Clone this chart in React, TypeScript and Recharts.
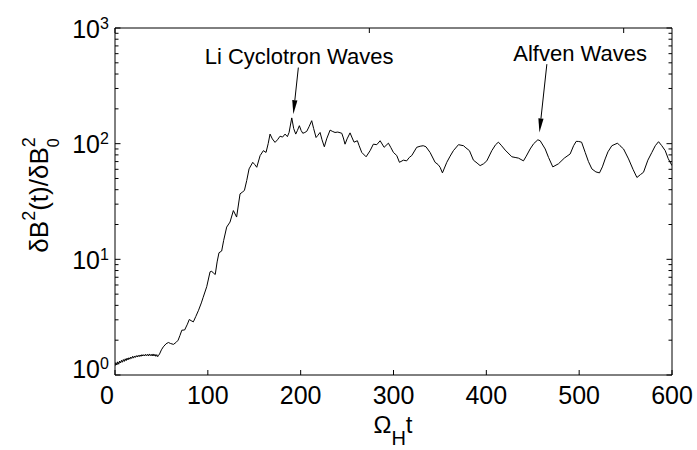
import React from 'react';
import { LineChart, Line, XAxis, YAxis, ReferenceLine, ReferenceDot } from 'recharts';

const FONT = "Arial, 'Liberation Sans', Helvetica, sans-serif";

// normalised time Omega_H t
const timeSteps = [
  0, 1, 2, 3, 4, 5, 6, 7, 8, 9, 10, 11, 12, 13, 14, 15, 16, 17, 18, 19,
  20, 21, 22, 23, 24, 25, 26, 27, 28, 29, 30, 31, 32, 33, 34, 35, 36, 37, 38, 39,
  40, 41, 42, 43, 44, 45, 46, 47, 48, 50, 52, 55, 57.5, 60, 63, 66, 68, 70, 72, 75,
  78, 80, 82, 84.4, 87, 90, 93, 95, 98.8, 102.4, 104.2, 106, 108, 110, 112, 114.9, 117, 120.3, 123.9, 127.5,
  131, 134.7, 137, 139.4, 141.9, 144.4, 148.4, 150.5, 152.7, 156.3, 159.8, 162.7, 165, 167, 169.5, 172.4, 175, 177.8, 180.5, 183.2,
  185.7, 187.5, 190.4, 192.5, 194.7, 196.5, 198.6, 200.5, 202.3, 204.5, 206.6, 209, 211.9, 214, 216.6, 218.5, 220.9, 223, 225.5, 228,
  231.7, 234, 237, 240, 244.3, 246, 247.8, 250, 253.2, 255.5, 257.5, 261.1, 263, 265.8, 270.5, 274.8, 278.3, 282, 285.6, 289.9,
  294.5, 297, 299.9, 303.5, 306.4, 310.7, 314.2, 317, 319.7, 325, 328.7, 332, 335, 339.4, 344.8, 348, 350.2, 352.7, 357.4, 361,
  364.5, 370, 375.4, 378, 381.8, 386.1, 390, 393.3, 397, 400.5, 405.9, 410, 413, 416, 420.3, 427.5, 431, 434.6, 440, 443,
  447.2, 451, 455.5, 458, 463.4, 467, 471.6, 477.7, 484, 490.3, 494, 496.8, 499.5, 502.6, 506.5, 510, 513.7, 518, 521.9, 525,
  528, 531, 535.2, 541.3, 544, 547.8, 550, 553.2, 558, 562.2, 566, 569.3, 574, 578.3, 582, 585.5, 589, 592.7, 596, 600,
];

// dB^2(t)/dB0^2
const energyRatio = [
  1.2, 1.28, 1.22, 1.3, 1.24, 1.32, 1.27, 1.34, 1.29, 1.36, 1.31, 1.38, 1.33, 1.4, 1.35, 1.41, 1.37, 1.43, 1.39, 1.45,
  1.4, 1.46, 1.42, 1.47, 1.43, 1.48, 1.44, 1.49, 1.45, 1.5, 1.46, 1.5, 1.46, 1.51, 1.47, 1.51, 1.46, 1.52, 1.47, 1.51,
  1.46, 1.52, 1.46, 1.51, 1.45, 1.5, 1.44, 1.48, 1.52, 1.65, 1.75, 1.86, 1.91, 1.87, 1.84, 1.92, 2.0, 2.2, 2.44, 2.45,
  2.75, 3.02, 2.95, 2.88, 3.2, 3.63, 4.2, 4.7, 5.8, 7.8, 7.9, 7.6, 7.4, 9.5, 11.4, 11.8, 14.5, 19, 21, 26.4,
  23.2, 36.8, 38, 39.4, 48, 60.5, 69, 66, 62.5, 78.8, 87, 84, 100, 121, 110, 102.6, 108, 116, 114, 121,
  115, 125, 167, 135, 121, 130, 143, 130, 123, 125, 128, 140, 158, 135, 113, 118, 125, 108, 94, 110,
  131, 128, 125, 126, 123, 112, 99, 110, 124, 112, 103, 106, 96, 84, 77, 87, 99, 98, 106, 93,
  101, 93, 84, 79, 69, 72, 71, 76, 79, 93, 95, 96, 94, 84, 69, 66, 62.5, 55.9, 69, 78,
  87, 98, 96, 92, 87, 72, 68, 64.6, 67, 71, 87, 98, 103, 97, 88, 77, 76, 75, 71, 78,
  90, 100, 108, 106, 90, 76, 63, 67, 75, 81.5, 96, 104.7, 104.5, 103, 84, 70, 60.5, 57, 55.9, 63,
  73.8, 85, 96, 101, 96, 90, 83, 73.8, 60, 51, 54, 56.6, 72, 84, 96, 104, 96, 87, 74, 64.6,
];

const xTicks = [0, 100, 200, 300, 400, 500, 600];
const yTicks = [
  1, 2, 3, 4, 5, 6, 7, 8, 9,
  10, 20, 30, 40, 50, 60, 70, 80, 90,
  100, 200, 300, 400, 500, 600, 700, 800, 900, 1000,
];
const yMajor = [1, 10, 100, 1000];

const annotations = [
  { text: 'Li Cyclotron Waves', from: { x: 197.5, y: 455 }, to: { x: 192.1, y: 180 }, labelX: 198.3, labelY: 490 },
  { text: 'Alfven Waves', from: { x: 465.2, y: 487 }, to: { x: 457.2, y: 125 }, labelX: 501, labelY: 520 },
];

const chartData = timeSteps.map((t, i) => ({ t, v: energyRatio[i] }));

const BottomTick = (props: any) => {
  const { x, y, payload } = props;
  const shift = payload.value === 0 ? -8 : 0;
  return (
    <g>
      <line x1={x} x2={x} y1={y} y2={y - 5} stroke="#000" />
      <text x={x + shift} y={y + 29} textAnchor="middle" fontSize={25} fontFamily={FONT} fill="#000">
        {payload.value}
      </text>
    </g>
  );
};

const TopTick = (props: any) => {
  const { x, y } = props;
  return <line x1={x} x2={x} y1={y} y2={y + 5} stroke="#000" />;
};

const LeftTick = (props: any) => {
  const { x, y, payload } = props;
  const major = yMajor.includes(payload.value);
  if (!major) return <line x1={x} x2={x + 3.5} y1={y} y2={y} stroke="#000" />;
  const exp = Math.round(Math.log10(payload.value));
  const lift = exp === 0 ? -7 : 0;
  return (
    <g>
      <line x1={x} x2={x + 5.5} y1={y} y2={y} stroke="#000" />
      <text x={x - 15} y={y + 9.5 + lift} textAnchor="end" fontSize={25} fontFamily={FONT} fill="#000">
        10
      </text>
      <text x={x - 15} y={y + 0.5 + lift} textAnchor="start" fontSize={16} fontFamily={FONT} fill="#000">
        {exp}
      </text>
    </g>
  );
};

const RightTick = (props: any) => {
  const { x, y, payload } = props;
  const len = yMajor.includes(payload.value) ? 5.5 : 3.5;
  return <line x1={x} x2={x - len} y1={y} y2={y} stroke="#000" />;
};

const Arrow = (props: any) => {
  const { x1, y1, x2, y2 } = props;
  const dx = x2 - x1;
  const dy = y2 - y1;
  const len = Math.sqrt(dx * dx + dy * dy);
  const ux = dx / len;
  const uy = dy / len;
  const head = 14;
  const half = 2.6;
  const bx = x2 - ux * head;
  const by = y2 - uy * head;
  return (
    <g>
      <line x1={x1} y1={y1} x2={bx} y2={by} stroke="#000" strokeWidth={1} />
      <polygon
        points={`${x2},${y2} ${bx - uy * half},${by + ux * half} ${bx + uy * half},${by - ux * half}`}
        fill="#000"
      />
    </g>
  );
};

export default function App() {
  return (
    <div style={{ position: 'absolute', left: 0, top: 0, background: '#fff' }}>
      <LineChart width={697} height={450} data={chartData} margin={{ top: 0, right: 0, bottom: 0, left: 0 }}>
        <XAxis
          dataKey="t"
          type="number"
          domain={[0, 600]}
          ticks={xTicks}
          allowDataOverflow
          height={75}
          tickSize={0}
          tickMargin={0}
          tick={<BottomTick />}
          axisLine={{ stroke: '#000', strokeWidth: 1 }}
          tickLine={false}
          interval={0}
        />
        <XAxis
          xAxisId="top"
          orientation="top"
          type="number"
          domain={[0, 600]}
          ticks={xTicks}
          allowDataOverflow
          height={28}
          tickSize={0}
          tickMargin={0}
          tick={<TopTick />}
          axisLine={{ stroke: '#000', strokeWidth: 1 }}
          tickLine={false}
          interval={0}
        />
        <YAxis
          type="number"
          scale="log"
          domain={[1, 1000]}
          ticks={yTicks}
          allowDataOverflow
          width={115}
          tickSize={0}
          tickMargin={0}
          tick={<LeftTick />}
          axisLine={{ stroke: '#000', strokeWidth: 1 }}
          tickLine={false}
          interval={0}
        />
        <YAxis
          yAxisId="right"
          orientation="right"
          type="number"
          scale="log"
          domain={[1, 1000]}
          ticks={yTicks}
          allowDataOverflow
          width={25}
          tickSize={0}
          tickMargin={0}
          tick={<RightTick />}
          axisLine={{ stroke: '#000', strokeWidth: 1 }}
          tickLine={false}
          interval={0}
        />
        <Line
          type="linear"
          dataKey="v"
          stroke="#000"
          strokeWidth={1}
          dot={false}
          isAnimationActive={false}
        />
        {annotations.map((a) => (
          <ReferenceLine
            key={`arrow-${a.text}`}
            segment={[a.from, a.to]}
            ifOverflow="visible"
            shape={(p: any) => <Arrow {...p} />}
          />
        ))}
        {annotations.map((a) => (
          <ReferenceDot
            key={`label-${a.text}`}
            x={a.labelX}
            y={a.labelY}
            r={0}
            ifOverflow="visible"
            shape={(p: any) => (
              <text x={p.cx} y={p.cy} textAnchor="middle" fontSize={22} fontFamily={FONT} fill="#000">
                {a.text}
              </text>
            )}
          />
        ))}
        <text x={393} y={433} textAnchor="middle" fontFamily={FONT} fill="#000" fontSize={24}>
          Ω
          <tspan fontSize={20} dy={12}>H</tspan>
          <tspan fontSize={24} dy={-12}>t</tspan>
        </text>
        <text
          x={0}
          y={0}
          transform="translate(48,195) rotate(-90)"
          textAnchor="middle"
          fontFamily={FONT}
          fill="#000"
          fontSize={26}
        >
          δB
          <tspan fontSize={18} dy={-13}>2</tspan>
          <tspan fontSize={26} dy={13}>(t)/δB</tspan>
          <tspan fontSize={16} dy={11}>0</tspan>
          <tspan fontSize={18} dx={-9} dy={-24}>2</tspan>
        </text>
      </LineChart>
    </div>
  );
}
